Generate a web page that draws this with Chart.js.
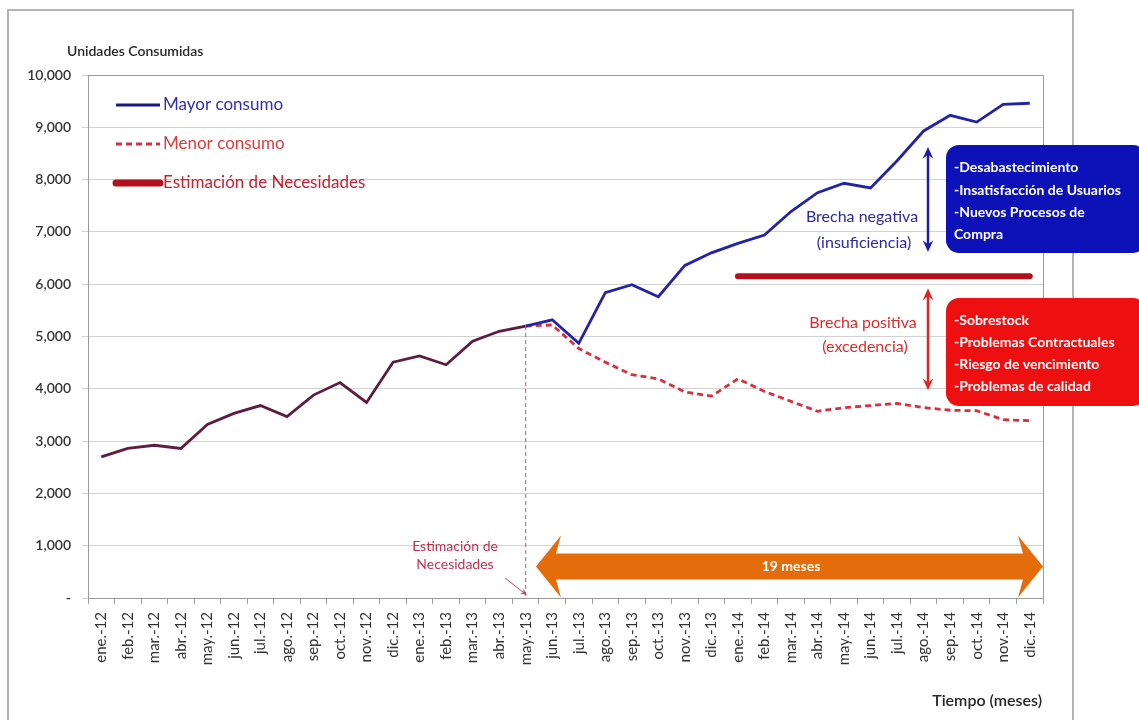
<!DOCTYPE html>
<html lang="es">
<head>
<meta charset="utf-8">
<title>Brecha de consumo vs estimación de necesidades</title>
<script src="https://cdn.jsdelivr.net/npm/chart.js@4.4.1/dist/chart.umd.min.js"></script>
<style>
  html, body { margin: 0; padding: 0; background: #ffffff; }
  #grafico { display: block; }
</style>
</head>
<body>
<canvas id="grafico" width="1139" height="720"></canvas>
<script>
// --- DATOS DEL GRÁFICO ---
const meses = [
    'ene.-12', 'feb.-12', 'mar.-12', 'abr.-12', 'may.-12', 'jun.-12',
    'jul.-12', 'ago.-12', 'sep.-12', 'oct.-12', 'nov.-12', 'dic.-12',
    'ene.-13', 'feb.-13', 'mar.-13', 'abr.-13', 'may.-13', 'jun.-13',
    'jul.-13', 'ago.-13', 'sep.-13', 'oct.-13', 'nov.-13', 'dic.-13',
    'ene.-14', 'feb.-14', 'mar.-14', 'abr.-14', 'may.-14', 'jun.-14',
    'jul.-14', 'ago.-14', 'sep.-14', 'oct.-14', 'nov.-14', 'dic.-14'
];

const mayorConsumo = [
    2700, 2860, 2920, 2860, 3320, 3530, 3680, 3470, 3880, 4120, 3740, 4510,
    4630, 4460, 4910, 5100, 5200, 5320, 4870, 5840, 5990, 5760, 6360, 6600,
    6780, 6940, 7390, 7750, 7930, 7840, 8360, 8930, 9230, 9100, 9440, 9460
];

const menorConsumo = [
    2700, 2860, 2920, 2860, 3320, 3530, 3680, 3470, 3880, 4120, 3740, 4510,
    4630, 4460, 4910, 5100, 5200, 5220, 4770, 4510, 4270, 4190, 3940, 3860,
    4190, 3950, 3760, 3570, 3640, 3680, 3720, 3640, 3590, 3580, 3410, 3390
];

const estimacionNecesidades = [
    null, null, null, null, null, null, null, null, null, null, null, null,
    null, null, null, null, null, null, null, null, null, null, null, null,
    6150, 6150, 6150, 6150, 6150, 6150, 6150, 6150, 6150, 6150, 6150, 6150
];

const ticksY = [0, 1000, 2000, 3000, 4000, 5000, 6000, 7000, 8000, 9000, 10000];

// índice del mes en que se hizo la estimación (may.-13)
const MES_ESTIMACION = 16;

const FUENTE = 'Lato, "Open Sans", sans-serif';
const COLOR_HISTORIA = '#5e1c40';
const COLOR_MAYOR = '#2323a6';
const COLOR_MENOR = '#d8303c';
const COLOR_ESTIMACION = '#b3101e';

// Flecha con punta(s) sencilla(s)
function flechaLinea(ctx, x1, y1, x2, y2, color, ancho, punta, doble) {
    const ang = Math.atan2(y2 - y1, x2 - x1);
    ctx.save();
    ctx.strokeStyle = color;
    ctx.fillStyle = color;
    ctx.lineWidth = ancho;
    ctx.beginPath();
    ctx.moveTo(x1 + (doble ? Math.cos(ang) * punta * 0.6 : 0), y1 + (doble ? Math.sin(ang) * punta * 0.6 : 0));
    ctx.lineTo(x2 - Math.cos(ang) * punta * 0.6, y2 - Math.sin(ang) * punta * 0.6);
    ctx.stroke();
    const cabeza = (x, y, a) => {
        ctx.beginPath();
        ctx.moveTo(x, y);
        ctx.lineTo(x - punta * Math.cos(a - 0.42), y - punta * Math.sin(a - 0.42));
        ctx.lineTo(x - punta * 0.6 * Math.cos(a), y - punta * 0.6 * Math.sin(a));
        ctx.lineTo(x - punta * Math.cos(a + 0.42), y - punta * Math.sin(a + 0.42));
        ctx.closePath();
        ctx.fill();
    };
    cabeza(x2, y2, ang);
    if (doble) cabeza(x1, y1, ang + Math.PI);
    ctx.restore();
}

// Flecha gruesa horizontal de doble punta (la naranja de "19 meses")
function flechaGruesa(ctx, x1, x2, yc, cuerpo, alto, largoPunta, color) {
    ctx.save();
    ctx.fillStyle = color;
    ctx.beginPath();
    ctx.moveTo(x1, yc);
    ctx.lineTo(x1 + largoPunta, yc - alto / 2);
    ctx.lineTo(x1 + largoPunta * 0.8, yc - cuerpo / 2);
    ctx.lineTo(x2 - largoPunta * 0.8, yc - cuerpo / 2);
    ctx.lineTo(x2 - largoPunta, yc - alto / 2);
    ctx.lineTo(x2, yc);
    ctx.lineTo(x2 - largoPunta, yc + alto / 2);
    ctx.lineTo(x2 - largoPunta * 0.8, yc + cuerpo / 2);
    ctx.lineTo(x1 + largoPunta * 0.8, yc + cuerpo / 2);
    ctx.lineTo(x1 + largoPunta, yc + alto / 2);
    ctx.closePath();
    ctx.fill();
    ctx.restore();
}

function cajaTexto(ctx, x, y, w, h, color, lineas, yLineas) {
    ctx.save();
    ctx.fillStyle = color;
    ctx.beginPath();
    ctx.roundRect(x, y, w, h, 13);
    ctx.fill();
    ctx.fillStyle = '#ffffff';
    ctx.font = 'bold 14px ' + FUENTE;
    ctx.textAlign = 'left';
    ctx.textBaseline = 'middle';
    lineas.forEach((t, i) => ctx.fillText(t, x + 8, yLineas[i]));
    ctx.restore();
}

// --- PLUGIN: fondo y marco exterior ---
const pluginMarco = {
    id: 'marco',
    beforeDraw(chart) {
        const ctx = chart.ctx;
        ctx.save();
        ctx.fillStyle = '#ffffff';
        ctx.fillRect(0, 0, chart.width, chart.height);
        ctx.strokeStyle = '#b4b4b4';
        ctx.lineWidth = 2;
        ctx.strokeRect(8, 10, 1065, 720);
        ctx.restore();
    },
    beforeDatasetsDraw(chart) {
        const { ctx, chartArea: a } = chart;
        ctx.save();
        ctx.strokeStyle = '#9a9a9a';
        ctx.lineWidth = 1;
        ctx.beginPath();
        ctx.moveTo(a.left, a.top + 0.5);
        ctx.lineTo(a.right + 0.5, a.top + 0.5);
        ctx.lineTo(a.right + 0.5, a.bottom);
        ctx.stroke();
        ctx.restore();
    }
};

// --- PLUGIN: leyenda interna y anotaciones ---
const pluginAnotaciones = {
    id: 'anotaciones',
    afterDraw(chart) {
        const { ctx, scales } = chart;
        const x = scales.x;
        const y = scales.y;
        const anchoCat = x.getPixelForValue(1) - x.getPixelForValue(0);

        // títulos de los ejes
        ctx.save();
        ctx.fillStyle = '#262626';
        ctx.font = '600 14px ' + FUENTE;
        ctx.textBaseline = 'middle';
        ctx.fillText('Unidades Consumidas', 67, 51);
        ctx.font = '600 16px ' + FUENTE;
        ctx.textAlign = 'right';
        ctx.fillText('Tiempo (meses)', 1042, 701);
        ctx.restore();

        // leyenda
        const filas = [105, 144, 183];
        const coloresTexto = ['#2e2eb4', '#e23a3a', '#c82030'];
        chart.data.datasets.forEach((ds, i) => {
            ctx.save();
            ctx.strokeStyle = i === 0 ? '#1a1a80' : ds.borderColor;
            ctx.lineWidth = i === 2 ? 7 : 3;
            ctx.lineCap = i === 2 ? 'round' : 'butt';
            ctx.setLineDash(ds.borderDash || []);
            ctx.beginPath();
            ctx.moveTo(116, filas[i]);
            ctx.lineTo(160, filas[i]);
            ctx.stroke();
            ctx.setLineDash([]);
            ctx.fillStyle = coloresTexto[i];
            ctx.font = '17px ' + FUENTE;
            ctx.textBaseline = 'middle';
            ctx.fillText(ds.label, 163, filas[i]);
            ctx.restore();
        });

        // línea vertical en el mes de la estimación
        const xe = x.getPixelForValue(MES_ESTIMACION);
        ctx.save();
        ctx.strokeStyle = '#b05a6e';
        ctx.lineWidth = 1;
        ctx.setLineDash([4, 3]);
        ctx.beginPath();
        ctx.moveTo(xe, y.getPixelForValue(mayorConsumo[MES_ESTIMACION]));
        ctx.lineTo(xe, y.bottom - 2);
        ctx.stroke();
        ctx.restore();

        ctx.save();
        ctx.fillStyle = '#c03050';
        ctx.font = '14px ' + FUENTE;
        ctx.textAlign = 'center';
        ctx.textBaseline = 'middle';
        ctx.fillText('Estimación de', 455, 546);
        ctx.fillText('Necesidades', 455, 564);
        ctx.restore();
        flechaLinea(ctx, 505, 578, xe + 1, 595, '#a84a66', 1, 7, false);

        // flecha naranja del horizonte de 19 meses
        const x1 = x.getPixelForValue(MES_ESTIMACION + 1) - anchoCat / 2;
        const x2 = x.getPixelForValue(meses.length - 1) + anchoCat / 2;
        const yc = y.getPixelForValue(600);
        flechaGruesa(ctx, x1 - 3, x2, yc, 26, 62, 25, '#e46c0a');
        ctx.save();
        ctx.fillStyle = '#ffffff';
        ctx.font = 'bold 14px ' + FUENTE;
        ctx.textAlign = 'center';
        ctx.textBaseline = 'middle';
        ctx.fillText('19 meses', (x1 + x2) / 2, yc);
        ctx.restore();

        // brechas
        const yEst = y.getPixelForValue(6150);
        flechaLinea(ctx, 928, 147, 928, 252, '#1c1ca8', 2.5, 13, true);
        flechaLinea(ctx, 928, yEst + 12, 928, yEst + 114, '#e02424', 2.5, 13, true);

        ctx.save();
        ctx.font = '16px ' + FUENTE;
        ctx.textAlign = 'center';
        ctx.textBaseline = 'middle';
        ctx.fillStyle = '#2b2b9c';
        ctx.fillText('Brecha negativa', 862, 217);
        ctx.fillText('(insuficiencia)', 864, 243);
        ctx.fillStyle = '#e02a2a';
        ctx.fillText('Brecha positiva', 863, 323);
        ctx.fillText('(excedencia)', 865, 347);
        ctx.restore();

        // cajas de consecuencias
        cajaTexto(ctx, 946, 145, 200, 108, '#0c12b8',
            ['-Desabastecimiento', '-Insatisfacción de Usuarios', '-Nuevos Procesos de', 'Compra'],
            [167, 190, 212, 234]);
        cajaTexto(ctx, 946, 298, 200, 108, '#ee1010',
            ['-Sobrestock', '-Problemas Contractuales', '-Riesgo de vencimiento', '-Problemas de calidad'],
            [320, 342, 364, 386]);
    }
};

// --- INICIALIZADOR PRINCIPAL ---
function inicializarGrafico() {
    const canvas = document.getElementById('grafico');
    if (!canvas) return;

    new Chart(canvas, {
        type: 'line',
        data: {
            labels: meses,
            datasets: [
                {
                    label: 'Mayor consumo',
                    data: mayorConsumo,
                    borderColor: COLOR_MAYOR,
                    borderWidth: 2.8,
                    pointRadius: 0,
                    tension: 0,
                    segment: {
                        borderColor: c => c.p1DataIndex <= MES_ESTIMACION ? COLOR_HISTORIA : undefined
                    }
                },
                {
                    label: 'Menor consumo',
                    data: menorConsumo,
                    borderColor: COLOR_MENOR,
                    borderWidth: 2.8,
                    borderDash: [6, 4],
                    pointRadius: 0,
                    tension: 0,
                    segment: {
                        borderColor: c => c.p1DataIndex <= MES_ESTIMACION ? 'rgba(0,0,0,0)' : undefined
                    }
                },
                {
                    label: 'Estimación de Necesidades',
                    data: estimacionNecesidades,
                    borderColor: COLOR_ESTIMACION,
                    borderWidth: 6,
                    borderCapStyle: 'round',
                    pointRadius: 0,
                    tension: 0,
                    spanGaps: false
                }
            ]
        },
        options: {
            responsive: false,
            animation: false,
            layout: { padding: { top: 75, right: 96, bottom: 0, left: 0 } },
            plugins: {
                legend: { display: false },
                tooltip: { enabled: false }
            },
            scales: {
                x: {
                    offset: true,
                    grid: { offset: true, drawOnChartArea: false, drawTicks: true, tickLength: 6, color: '#9a9a9a' },
                    border: { color: '#9a9a9a' },
                    ticks: {
                        autoSkip: false, maxRotation: 90, minRotation: 90,
                        font: { family: FUENTE, size: 15 }, color: '#333333', padding: 8
                    },
                    afterFit: s => { s.height = 122; }
                },
                y: {
                    min: 0, max: 10000,
                    afterBuildTicks: s => { s.ticks = ticksY.map(v => ({ value: v })); },
                    ticks: {
                        font: { family: FUENTE, size: 14, weight: '600' }, color: '#333333', padding: 11,
                        callback: v => v === 0 ? '-' : v.toLocaleString('en-US')
                    },
                    grid: { color: '#d2d2d2', tickLength: 6, drawTicks: true },
                    border: { color: '#9a9a9a' },
                    afterFit: s => { s.width = 88; }
                }
            }
        },
        plugins: [pluginMarco, pluginAnotaciones]
    });
}

document.addEventListener('DOMContentLoaded', function() {
    inicializarGrafico();
});
</script>
</body>
</html>
